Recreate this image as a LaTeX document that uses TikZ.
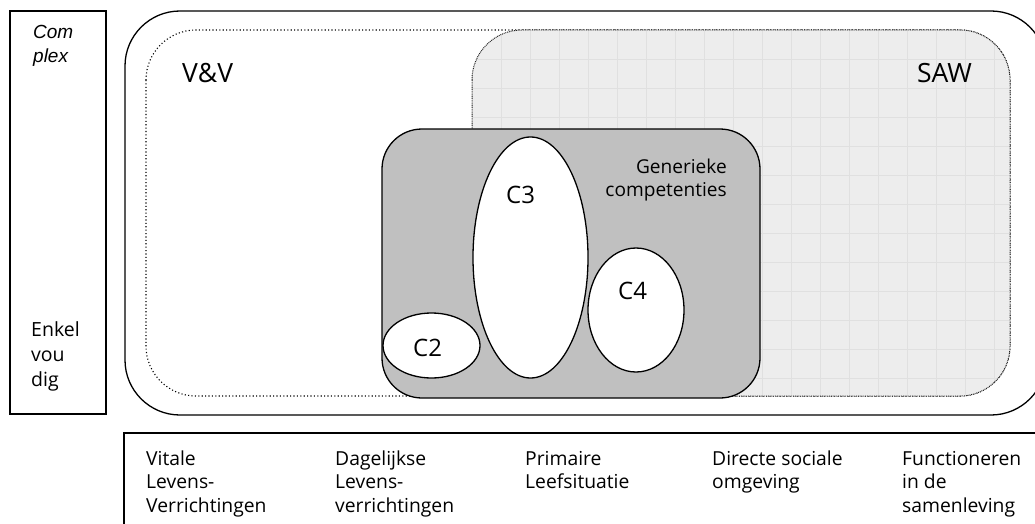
\documentclass[tikz,border=0pt]{standalone}
\usepackage{fontspec}
\setmainfont{Open Sans}
\newfontfamily\arialfont{Liberation Sans}
\usetikzlibrary{shapes.geometric}
\definecolor{boxgray}{HTML}{C0C0C0}
\definecolor{sawfill}{HTML}{EDEDED}
\definecolor{sawgrid}{HTML}{E0E0E0}
\tikzset{
  frame/.style={draw=black, line width=1.3pt},
  oval/.style={ellipse, draw=black, line width=1.3pt, fill=white, inner sep=0pt},
  txt/.style={inner sep=0pt, align=left, text=black},
  bottomtxt/.style={txt, anchor=base west, font=\fontsize{19.3}{23.5}\selectfont},
  clabel/.style={inner sep=0pt, anchor=base west, font=\fontsize{24}{28}\selectfont},
}
\begin{document}
\begin{tikzpicture}[x=1pt,y=-1pt]
\useasboundingbox (0,0) rectangle (1035,524);
\fill[white] (0,0) rectangle (1035,524);
% outer rounded frame
\draw[frame, rounded corners=55pt] (125,11) rectangle (1046,415);
% V&V dotted area
\draw[line width=1.1pt, dash pattern=on 1.1pt off 2.3pt, rounded corners=50pt] (146,30) rectangle (1010,396);
% SAW area
\fill[sawfill, rounded corners=50pt] (472,30) rectangle (1010,396);
\begin{scope}
  \clip[rounded corners=50pt] (472,30) rectangle (1010,396);
  \foreach \gx in {0,...,18} {\draw[sawgrid, line width=0.8pt] (472+29*\gx,30) -- (472+29*\gx,396);}
  \foreach \gy in {0,...,12} {\draw[sawgrid, line width=0.8pt] (472,30+29*\gy) -- (1010,30+29*\gy);}
\end{scope}
\draw[black!85, line width=1pt, dash pattern=on 0.9pt off 0.9pt, rounded corners=50pt] (472,30) rectangle (1010,396);
\node[txt, anchor=base west, font=\fontsize{26.5}{30}\selectfont] (vv) at (182,83) {V\&V};
\node[txt, anchor=base east, font=\fontsize{26.5}{30}\selectfont] (saw) at (972,83) {SAW};
% generic competences box
\draw[frame, fill=boxgray, rounded corners=40pt] (382,129) rectangle (760,398);
\node[txt, align=right, anchor=base east, font=\fontsize{19.1}{23}\selectfont] (gen) at (727,196) {Generieke\\competenties};
% ellipses
\node[oval, minimum width=115pt, minimum height=241pt] (c3) at (530.5,257.5) {};
\node[oval, minimum width=97pt, minimum height=65pt] (c2) at (431.5,345.5) {};
\node[oval, minimum width=96pt, minimum height=124pt] (c4) at (636,310) {};
\node[clabel] (c3t) at (506,203) {C3};
\node[clabel] (c4t) at (618,299) {C4};
\node[clabel] (c2t) at (413,356) {C2};
% left scale box
\draw[frame] (10,11) rectangle (106,414);
\node[txt, anchor=base west, font=\arialfont\itshape\fontsize{19}{24}\selectfont] (complex) at (33,63) {Com\\plex};
\node[txt, anchor=base west, font=\fontsize{19.5}{25}\selectfont] (simple) at (31,386) {Enkel\\vou\\dig};
% bottom axis box
\draw[frame] (124,540) |- (1046,433);
\node[bottomtxt] (b1) at (146,512) {Vitale\\Levens-\\Verrichtingen};
\node[bottomtxt] (b2) at (335,512) {Dagelijkse\\Levens-\\verrichtingen};
\node[bottomtxt] (b3) at (525,488.5) {Primaire\\Leefsituatie};
\node[bottomtxt] (b4) at (712,488.5) {Directe sociale\\omgeving};
\node[bottomtxt] (b5) at (902,512) {Functioneren\\in de\\samenleving};
\end{tikzpicture}
\end{document}
